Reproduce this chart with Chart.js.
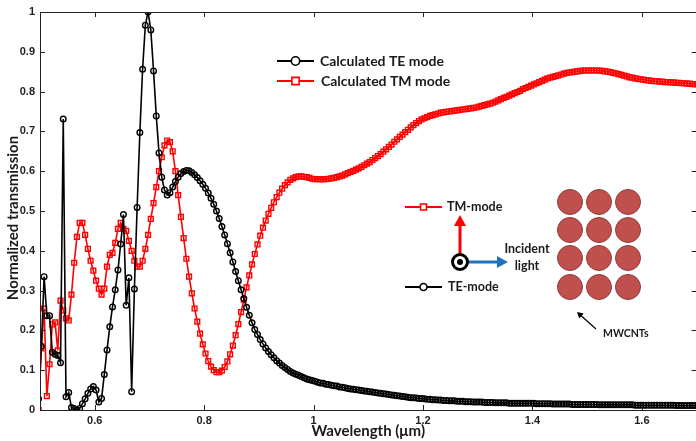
<!DOCTYPE html>
<html>
<head>
<meta charset="utf-8">
<script src="https://cdn.jsdelivr.net/npm/chart.js@4.4.1/dist/chart.umd.min.js"></script>
<style>
  html, body { margin: 0; padding: 0; background: #fff; overflow: hidden; }
  #wrap { width: 702px; height: 441px; }
</style>
</head>
<body>
<div id="wrap"><canvas id="transChart" width="702" height="441"></canvas></div>
<script>
// sampling grid of the simulation (wavelength in um)
const startWavelength = 0.4975;
const stepWavelength = 0.005;

// normalized transmission (rows of 10 samples)
const teMode = [
  0.028, 0.16, 0.335, 0.237, 0.237, 0.145, 0.14, 0.137, 0.119, 0.731,   // 0.4975
  0.033, 0.044, 0.006, 0.004, 0.0, 0.004, 0.016, 0.028, 0.042, 0.053,    // 0.5475
  0.059, 0.05, 0.02, 0.029, 0.089, 0.151, 0.209, 0.259, 0.302, 0.352,    // 0.5975
  0.417, 0.491, 0.263, 0.332, 0.046, 0.304, 0.509, 0.697, 0.856, 0.967,  // 0.6475
  1.0, 0.955, 0.852, 0.739, 0.646, 0.585, 0.553, 0.54, 0.546, 0.56,      // 0.6975
  0.574, 0.585, 0.594, 0.599, 0.602, 0.601, 0.597, 0.591, 0.584, 0.576,  // 0.7475
  0.567, 0.557, 0.545, 0.532, 0.517, 0.5, 0.481, 0.461, 0.44, 0.418,     // 0.7975
  0.395, 0.372, 0.348, 0.325, 0.302, 0.28, 0.258, 0.238, 0.219, 0.202,   // 0.8475
  0.19, 0.177, 0.166, 0.156, 0.147, 0.139, 0.131, 0.124, 0.118, 0.112,   // 0.8975
  0.107, 0.102, 0.097, 0.093, 0.09, 0.087, 0.084, 0.081, 0.078, 0.076,   // 0.9475
  0.074, 0.072, 0.07, 0.068, 0.067, 0.065, 0.064, 0.062, 0.061, 0.06,    // 0.9975
  0.058, 0.057, 0.056, 0.054, 0.053, 0.052, 0.051, 0.05, 0.049, 0.048,   // 1.0475
  0.047, 0.046, 0.045, 0.044, 0.043, 0.042, 0.041, 0.04, 0.039, 0.038,   // 1.0975
  0.037, 0.036, 0.035, 0.034, 0.033, 0.032, 0.031, 0.031, 0.03, 0.029,   // 1.1475
  0.029, 0.028, 0.027, 0.027, 0.026, 0.026, 0.025, 0.025, 0.024, 0.024,  // 1.1975
  0.023, 0.023, 0.023, 0.022, 0.022, 0.022, 0.021, 0.021, 0.021, 0.02,   // 1.2475
  0.02, 0.02, 0.02, 0.019, 0.019, 0.019, 0.019, 0.018, 0.018, 0.018,     // 1.2975
  0.018, 0.018, 0.017, 0.017, 0.017, 0.017, 0.017, 0.017, 0.017, 0.017,  // 1.3475
  0.017, 0.017, 0.016, 0.016, 0.016, 0.016, 0.016, 0.016, 0.015, 0.015,  // 1.3975
  0.015, 0.015, 0.015, 0.015, 0.015, 0.014, 0.014, 0.014, 0.014, 0.014,  // 1.4475
  0.014, 0.014, 0.014, 0.014, 0.014, 0.013, 0.013, 0.013, 0.013, 0.013,  // 1.4975
  0.013, 0.013, 0.013, 0.013, 0.013, 0.013, 0.013, 0.013, 0.012, 0.012,  // 1.5475
  0.012, 0.012, 0.012, 0.012, 0.012, 0.012, 0.012, 0.012, 0.012, 0.012,  // 1.5975
  0.012, 0.012, 0.012, 0.011, 0.011, 0.011, 0.011, 0.011, 0.011, 0.011,  // 1.6475
  0.011, 0.011                                                           // 1.6975
];

const tmMode = [
  0, 0.155, 0.255, 0.035, 0.115, 0.215, 0.22, 0.15, 0.275, 0.25,         // 0.4975
  0.23, 0.225, 0.29, 0.37, 0.435, 0.47, 0.47, 0.44, 0.405, 0.375,        // 0.5475
  0.35, 0.325, 0.305, 0.29, 0.305, 0.36, 0.39, 0.395, 0.42, 0.455,       // 0.5975
  0.47, 0.455, 0.45, 0.425, 0.4, 0.375, 0.36, 0.36, 0.375, 0.405,        // 0.6475
  0.44, 0.48, 0.52, 0.56, 0.6, 0.635, 0.665, 0.677, 0.673, 0.65,         // 0.6975
  0.6, 0.54, 0.485, 0.432, 0.38, 0.335, 0.293, 0.255, 0.222, 0.192,      // 0.7475
  0.165, 0.142, 0.123, 0.109, 0.1, 0.095, 0.095, 0.099, 0.108, 0.122,    // 0.7975
  0.14, 0.162, 0.188, 0.216, 0.246, 0.277, 0.308, 0.338, 0.366, 0.392,   // 0.8475
  0.416, 0.438, 0.458, 0.476, 0.493, 0.508, 0.522, 0.535, 0.546, 0.556,  // 0.8975
  0.565, 0.572, 0.578, 0.582, 0.585, 0.587, 0.587, 0.586, 0.585, 0.583,  // 0.9475
  0.581, 0.58, 0.58, 0.58, 0.58, 0.58, 0.581, 0.582, 0.583, 0.585,       // 0.9975
  0.587, 0.589, 0.592, 0.595, 0.598, 0.601, 0.604, 0.607, 0.611, 0.615,  // 1.0475
  0.619, 0.623, 0.628, 0.633, 0.638, 0.643, 0.649, 0.655, 0.661, 0.667,  // 1.0975
  0.674, 0.68, 0.686, 0.692, 0.698, 0.704, 0.71, 0.716, 0.721, 0.726,    // 1.1475
  0.73, 0.733, 0.736, 0.739, 0.741, 0.743, 0.745, 0.747, 0.748, 0.749,   // 1.1975
  0.75, 0.751, 0.752, 0.753, 0.754, 0.755, 0.756, 0.757, 0.758, 0.759,   // 1.2475
  0.76, 0.762, 0.764, 0.766, 0.768, 0.77, 0.772, 0.775, 0.778, 0.781,    // 1.2975
  0.784, 0.787, 0.79, 0.793, 0.796, 0.799, 0.802, 0.806, 0.809, 0.812,   // 1.3475
  0.815, 0.818, 0.821, 0.824, 0.827, 0.83, 0.833, 0.835, 0.837, 0.839,   // 1.3975
  0.841, 0.843, 0.845, 0.847, 0.848, 0.849, 0.85, 0.851, 0.852, 0.853,   // 1.4475
  0.853, 0.853, 0.853, 0.853, 0.853, 0.853, 0.852, 0.851, 0.85, 0.849,   // 1.4975
  0.847, 0.846, 0.844, 0.842, 0.84, 0.838, 0.836, 0.835, 0.833, 0.832,   // 1.5475
  0.831, 0.83, 0.829, 0.828, 0.827, 0.826, 0.826, 0.825, 0.825, 0.824,   // 1.5975
  0.824, 0.823, 0.823, 0.822, 0.822, 0.821, 0.821, 0.82, 0.82, 0.819,    // 1.6475
  0.819, 0.818                                                           // 1.6975
];

const seriesNames = ["Calculated TE mode", "Calculated TM mode"];
const xTickValues = [0.6, 0.8, 1, 1.2, 1.4, 1.6];
const yTickValues = [0, 0.1, 0.2, 0.3, 0.4, 0.5, 0.6, 0.7, 0.8, 0.9, 1];
const wavelength = teMode.map((_, i) => +(startWavelength + i * stepWavelength).toFixed(4));

const tickFont = { family: "Liberation Sans", weight: "bold", size: 11 };
const labelFont = "Lato";

function arrow(ctx, x1, y1, x2, y2, color, lw, head) {
    const a = Math.atan2(y2 - y1, x2 - x1);
    ctx.save();
    ctx.strokeStyle = color;
    ctx.fillStyle = color;
    ctx.lineWidth = lw;
    ctx.beginPath();
    ctx.moveTo(x1, y1);
    ctx.lineTo(x2 - Math.cos(a) * head * 0.8, y2 - Math.sin(a) * head * 0.8);
    ctx.stroke();
    ctx.beginPath();
    ctx.moveTo(x2, y2);
    ctx.lineTo(x2 - head * Math.cos(a) + head * 0.55 * Math.sin(a), y2 - head * Math.sin(a) - head * 0.55 * Math.cos(a));
    ctx.lineTo(x2 - head * Math.cos(a) - head * 0.55 * Math.sin(a), y2 - head * Math.sin(a) + head * 0.55 * Math.cos(a));
    ctx.closePath();
    ctx.fill();
    ctx.restore();
}

function legendItem(ctx, x1, x2, y, color, marker, size) {
    const mx = (x1 + x2) / 2;
    ctx.strokeStyle = color;
    ctx.lineWidth = 2;
    ctx.beginPath();
    ctx.moveTo(x1, y);
    ctx.lineTo(x2, y);
    ctx.stroke();
    ctx.fillStyle = "#fff";
    ctx.lineWidth = 1.6;
    ctx.beginPath();
    if (marker === "circle") {
        ctx.arc(mx, y, size, 0, Math.PI * 2);
    } else {
        ctx.rect(mx - size, y - size, size * 2, size * 2);
    }
    ctx.fill();
    ctx.stroke();
}

// box around the axes with inward ticks, like the original figure
const framePlugin = {
    id: "frame",
    afterDatasetsDraw(chart) {
        const { ctx, chartArea: a, scales } = chart;
        ctx.save();
        ctx.strokeStyle = "#222";
        ctx.lineWidth = 1;
        ctx.strokeRect(a.left + 0.5, a.top + 0.5, a.right - a.left, a.bottom - a.top);
        ctx.beginPath();
        xTickValues.forEach(v => {
            const px = Math.round(scales.x.getPixelForValue(v)) + 0.5;
            ctx.moveTo(px, a.bottom); ctx.lineTo(px, a.bottom - 5);
            ctx.moveTo(px, a.top); ctx.lineTo(px, a.top + 5);
        });
        yTickValues.forEach(v => {
            const py = Math.round(scales.y.getPixelForValue(v)) + 0.5;
            ctx.moveTo(a.left, py); ctx.lineTo(a.left + 5, py);
            ctx.moveTo(a.right, py); ctx.lineTo(a.right - 5, py);
        });
        ctx.stroke();

        // y axis title, placed as in the original
        ctx.translate(13, 218);
        ctx.rotate(-Math.PI / 2);
        ctx.textAlign = "center";
        ctx.textBaseline = "middle";
        ctx.fillStyle = "#1a1a1a";
        ctx.font = "bold 15px " + labelFont;
        ctx.fillText("Normalized transmission", 0, 0);
        ctx.restore();
    }
};

// legend and the small sketch of the geometry inside the axes
const insetPlugin = {
    id: "inset",
    afterDraw(chart) {
        const ctx = chart.ctx;
        ctx.save();
        ctx.textBaseline = "middle";
        ctx.textAlign = "left";

        legendItem(ctx, 277, 314, 61, "#000", "circle", 4.2);
        legendItem(ctx, 277, 314, 81, "#ff0000", "rect", 3.6);
        ctx.fillStyle = "#1a1a1a";
        ctx.font = "bold 14px " + labelFont;
        ctx.fillText(seriesNames[0], 320, 61);
        ctx.fillText(seriesNames[1], 321, 81);

        // polarisation sketch
        legendItem(ctx, 405, 442, 207, "#ff0000", "rect", 3);
        legendItem(ctx, 405, 442, 287, "#000", "circle", 3.5);
        ctx.fillStyle = "#1a1a1a";
        ctx.font = "bold 12.5px " + labelFont;
        ctx.fillText("TM-mode", 447, 207);
        ctx.fillText("TE-mode", 448, 287);

        arrow(ctx, 460, 256, 460, 215, "#ff0000", 3, 11);
        arrow(ctx, 466, 262, 508, 262, "#1f74c0", 3, 11);
        ctx.strokeStyle = "#000";
        ctx.lineWidth = 3;
        ctx.beginPath();
        ctx.arc(460, 262, 7.5, 0, Math.PI * 2);
        ctx.stroke();
        ctx.fillStyle = "#000";
        ctx.beginPath();
        ctx.arc(460, 262, 3, 0, Math.PI * 2);
        ctx.fill();

        ctx.fillStyle = "#1a1a1a";
        ctx.textAlign = "center";
        ctx.fillText("Incident", 527, 249);
        ctx.fillText("light", 527, 266);

        // nanotube array
        ctx.fillStyle = "#c0504d";
        ctx.strokeStyle = "#8c3a38";
        ctx.lineWidth = 1;
        [570, 599, 628].forEach(cx => {
            [202, 230, 258, 287].forEach(cy => {
                ctx.beginPath();
                ctx.arc(cx, cy, 12.5, 0, Math.PI * 2);
                ctx.fill();
                ctx.stroke();
            });
        });
        arrow(ctx, 596, 329, 577, 312, "#000", 1.2, 6);
        ctx.fillStyle = "#1a1a1a";
        ctx.textAlign = "left";
        ctx.font = "bold 10.5px " + labelFont;
        ctx.fillText("MWCNTs", 603, 334);
        ctx.restore();
    }
};

const ctx = document.getElementById("transChart").getContext("2d");
new Chart(ctx, {
    type: "line",
    data: {
        datasets: [{
            label: seriesNames[0],
            data: teMode.map((v, i) => ({ x: wavelength[i], y: v })),
            borderColor: "#000",
            borderWidth: 1.6,
            pointStyle: "circle",
            pointRadius: 2.8,
            pointBorderWidth: 1.4,
            pointBorderColor: "#000",
            pointBackgroundColor: "rgba(255,255,255,0)",
            tension: 0
        }, {
            label: seriesNames[1],
            data: tmMode.map((v, i) => ({ x: wavelength[i], y: v })),
            borderColor: "#ff0000",
            borderWidth: 1.6,
            pointStyle: "rect",
            pointRadius: 3.4,
            pointBorderWidth: 1.4,
            pointBorderColor: "#ff0000",
            pointBackgroundColor: "rgba(255,255,255,0)",
            tension: 0
        }]
    },
    options: {
        responsive: false,
        animation: false,
        layout: { padding: { top: 12, right: 2, left: 0, bottom: 0 } },
        plugins: {
            legend: { display: false },
            tooltip: { enabled: false }
        },
        scales: {
            x: {
                type: "linear",
                min: 0.5,
                max: 1.7,
                afterBuildTicks: s => { s.ticks = xTickValues.map(v => ({ value: v })); },
                afterFit: s => { s.height = 31; },
                grid: { display: false, drawTicks: false },
                border: { display: false },
                ticks: {
                    padding: 4, color: "#222", font: tickFont,
                    maxRotation: 0, autoSkip: false,
                    callback: v => String(+v.toFixed(2))
                },
                title: {
                    display: true, text: "Wavelength (μm)", color: "#1a1a1a",
                    font: { family: labelFont, weight: "bold", size: 15 },
                    padding: { top: 0, bottom: 1 }
                }
            },
            y: {
                type: "linear",
                min: 0,
                max: 1,
                afterBuildTicks: s => { s.ticks = yTickValues.map(v => ({ value: v })); },
                afterFit: s => { s.width = 40; },
                grid: { display: false, drawTicks: false },
                border: { display: false },
                ticks: {
                    padding: 5, color: "#222", font: tickFont,
                    callback: v => String(+v.toFixed(2))
                }
            }
        }
    },
    plugins: [framePlugin, insetPlugin]
});
</script>
</body>
</html>
